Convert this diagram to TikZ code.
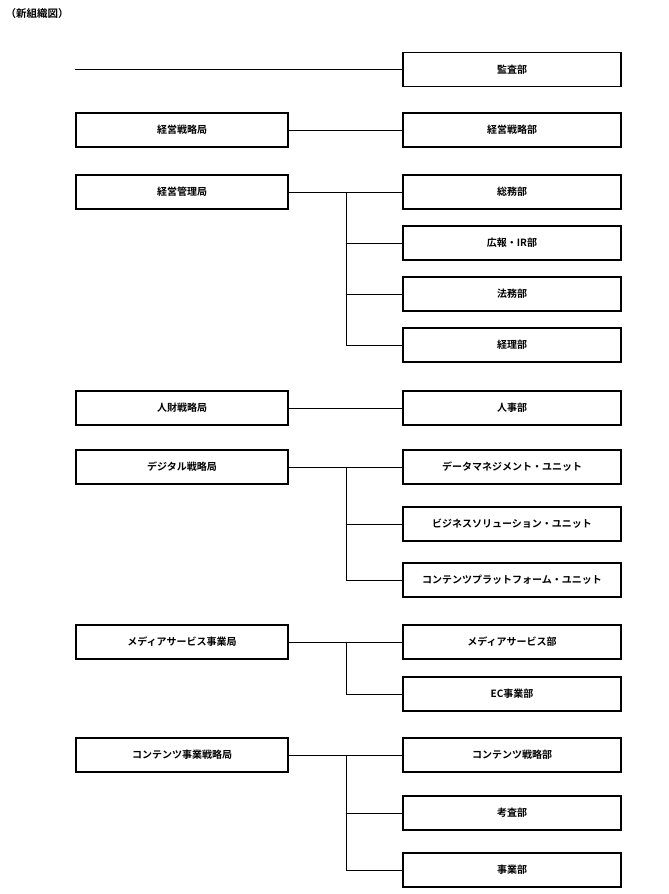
\documentclass[tikz,border=0pt]{standalone}
\usepackage{fontspec}
\setmainfont{Noto Sans CJK JP}[BoldFont={* Bold}]
\begin{document}
\begin{tikzpicture}[x=1pt,y=-1pt,
  box/.style={draw,line width=1.4pt,minimum height=34pt,inner sep=0pt,font=\bfseries\fontsize{10}{12}\selectfont},
  lb/.style={box,minimum width=212pt},
  rb/.style={box,minimum width=218pt},
  ln/.style={line width=0.5pt}]
\useasboundingbox (0,0) rectangle (669,894);
\node[anchor=north west,font=\bfseries\fontsize{10.5}{12}\selectfont] (title) at (2,5) {（新組織図）};
\node[rb] (r1) at (512,69.5) {監査部};
\coordinate (s1) at (75,69.5);
\draw[ln] (s1) -- (r1);
\node[lb] (l2) at (182,130) {経営戦略局};
\node[rb] (r2) at (512,130) {経営戦略部};
\draw[ln] (l2) -- (r2);
\node[lb] (l3) at (182,192) {経営管理局};
\node[rb] (r3a) at (512,192) {総務部};
\node[rb] (r3b) at (512,243) {広報・IR部};
\node[rb] (r3c) at (512,294) {法務部};
\node[rb] (r3d) at (512,345) {経理部};
\draw[ln] (l3) -- (r3a);
\foreach \n in {r3b,r3c,r3d} \draw[ln] (346,192) |- (\n.west);
\node[lb] (l4) at (182,408) {人財戦略局};
\node[rb] (r4) at (512,408) {人事部};
\draw[ln] (l4) -- (r4);
\node[lb] (l5) at (182,467) {デジタル戦略局};
\node[rb] (r5a) at (512,467) {データマネジメント・ユニット};
\node[rb] (r5b) at (512,524) {ビジネスソリューション・ユニット};
\node[rb] (r5c) at (512,580) {コンテンツプラットフォーム・ユニット};
\draw[ln] (l5) -- (r5a);
\foreach \n in {r5b,r5c} \draw[ln] (346,467) |- (\n.west);
\node[lb] (l6) at (182,642) {メディアサービス事業局};
\node[rb] (r6a) at (512,642) {メディアサービス部};
\node[rb] (r6b) at (512,694) {EC事業部};
\draw[ln] (l6) -- (r6a);
\draw[ln] (346,642) |- (r6b.west);
\node[lb] (l7) at (182,755) {コンテンツ事業戦略局};
\node[rb] (r7a) at (512,755) {コンテンツ戦略部};
\node[rb] (r7b) at (512,813) {考査部};
\node[rb] (r7c) at (512,870) {事業部};
\draw[ln] (l7) -- (r7a);
\foreach \n in {r7b,r7c} \draw[ln] (346,755) |- (\n.west);
\end{tikzpicture}
\end{document}
